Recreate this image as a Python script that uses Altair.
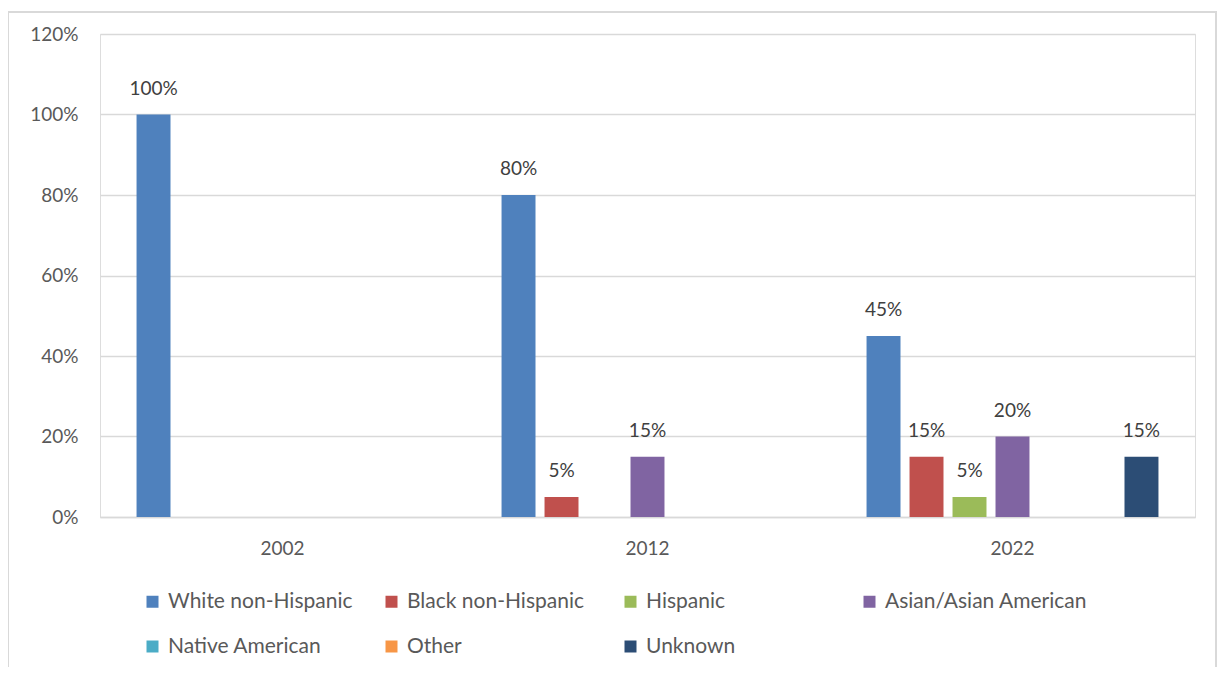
import altair as alt
import pandas as pd

years = ["2002", "2012", "2022"]
groups = ["White non-Hispanic", "Black non-Hispanic", "Hispanic",
          "Asian/Asian American", "Native American", "Other", "Unknown"]
colors = ["#4F81BD", "#C0504D", "#9BBB59", "#8064A2", "#4BACC6", "#F79646", "#2C4D75"]
values_2002 = [100, 0, 0, 0, 0, 0, 0]
values_2012 = [80, 5, 0, 15, 0, 0, 0]
values_2022 = [45, 15, 5, 20, 0, 0, 15]

rows = []
for yr, vals in zip(years, [values_2002, values_2012, values_2022]):
    for g, v in zip(groups, vals):
        rows.append({"year": yr, "group": g, "value": v / 100})
df = pd.DataFrame(rows)

FONT = "Lato"

base = alt.Chart(df).encode(
    x=alt.X("year:N", sort=years,
            scale=alt.Scale(paddingInner=0, paddingOuter=0),
            axis=alt.Axis(title=None, labelAngle=0, ticks=False, domainColor="#D9D9D9",
                          domainWidth=1.5, labelPadding=22, labelFontSize=19,
                          labelColor="#595959", labelFont=FONT, grid=False)),
    xOffset=alt.XOffset("group:N", sort=groups,
                        scale=alt.Scale(paddingInner=0.21, paddingOuter=0.85)),
)

bars = base.mark_bar().encode(
    y=alt.Y("value:Q",
            scale=alt.Scale(domain=[0, 1.2], nice=False),
            axis=alt.Axis(title=None, format=".0%", values=[0, 0.2, 0.4, 0.6, 0.8, 1.0, 1.2],
                          domain=False, ticks=False, labelPadding=22, labelFontSize=19,
                          labelColor="#595959", labelFont=FONT, gridColor="#D9D9D9",
                          gridWidth=1.5)),
    color=alt.Color("group:N", sort=groups,
                    scale=alt.Scale(domain=groups, range=colors),
                    legend=alt.Legend(title=None, orient="none", legendX=42, legendY=557,
                                      direction="horizontal",
                                      columns=4, gridAlign="all", symbolType="square",
                                      symbolSize=144, symbolStrokeWidth=0,
                                      labelFontSize=21, labelFont=FONT, labelColor="#595959",
                                      labelOffset=5, columnPadding=10, rowPadding=23,
                                      labelLimit=400)),
)

labels = base.mark_text(baseline="bottom", dy=-16, fontSize=19, font=FONT,
                        color="#404040").encode(
    y=alt.Y("value:Q"),
    text=alt.Text("value:Q", format=".0%"),
).transform_filter(alt.datum.value > 0)

frame = alt.Chart(df).mark_rect(fill=None, stroke="#D9D9D9", strokeWidth=1.5).encode(
    x=alt.value(-92), x2=alt.value(1116), y=alt.value(-22), y2=alt.value(700)
)

chart = alt.layer(frame, bars, labels).properties(
    width=1095, height=483,
    autosize=alt.AutoSizeParams(type="none"),
    padding={"left": 92, "top": 26, "right": 22, "bottom": 150},
).configure_view(stroke=None).configure(background="white")

chart.save("out.html", embed_options={"renderer": "svg", "actions": False})
